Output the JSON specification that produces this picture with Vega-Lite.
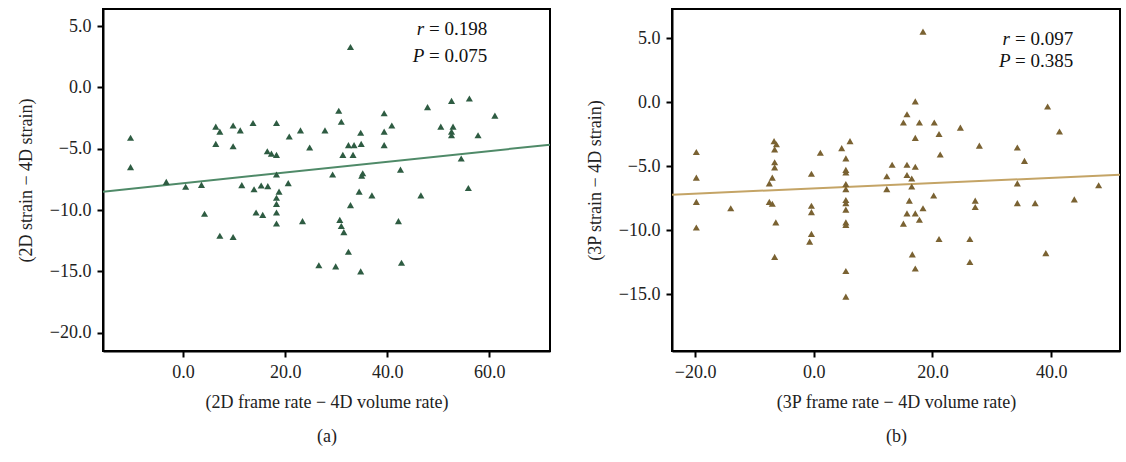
{
"$schema":"https://vega.github.io/schema/vega-lite/v6.json",
"background":"white",
"padding":{"left":16,"top":8,"right":0,"bottom":0},
"spacing":34,
"config":{
 "view":{"stroke":"black","strokeWidth":2},
 "font":"Liberation Serif",
 "axis":{"grid":false,"domainColor":"black","domainWidth":2,"tickColor":"black","tickWidth":2,"tickSize":6,"labelFont":"Liberation Serif","labelFontSize":18,"labelColor":"#222","titleFont":"Liberation Serif","titleFontSize":18,"titleFontWeight":"normal","titleColor":"#222","format":".1f","labelPadding":6},
 "axisX":{"titlePadding":12,"titleLineHeight":34},
 "axisY":{"titlePadding":14}
},
"datasets":{
 "a":[
{"x":-10.3,"y":-4.1},{"x":-10.3,"y":-6.5},{"x":-3.3,"y":-7.7},{"x":0.5,"y":-8.1},{"x":3.6,"y":-7.95},{"x":4.2,"y":-10.3},{"x":6.4,"y":-3.2},{"x":7.2,"y":-3.6},{"x":6.4,"y":-4.6},{"x":9.8,"y":-3.1},{"x":9.8,"y":-4.8},{"x":11.2,"y":-3.5},{"x":13.7,"y":-2.9},{"x":18.3,"y":-2.9},{"x":20.8,"y":-4.0},{"x":23.0,"y":-3.5},{"x":27.8,"y":-3.5},{"x":30.5,"y":-1.9},{"x":31.0,"y":-2.8},{"x":34.8,"y":-3.7},{"x":39.4,"y":-2.1},{"x":40.9,"y":-3.1},{"x":39.4,"y":-3.6},{"x":39.4,"y":-4.7},{"x":47.9,"y":-1.6},{"x":52.6,"y":-1.1},{"x":56.1,"y":-0.9},{"x":61.1,"y":-2.3},{"x":50.5,"y":-3.2},{"x":52.9,"y":-3.2},{"x":52.6,"y":-3.6},{"x":52.6,"y":-3.9},{"x":57.8,"y":-3.9},{"x":54.5,"y":-5.8},{"x":55.9,"y":-8.2},{"x":32.8,"y":3.3},{"x":16.5,"y":-5.2},{"x":17.3,"y":-5.4},{"x":18.3,"y":-5.5},{"x":24.8,"y":-4.9},{"x":32.4,"y":-4.7},{"x":33.5,"y":-4.7},{"x":34.9,"y":-4.6},{"x":31.3,"y":-5.5},{"x":33.3,"y":-5.5},{"x":18.3,"y":-7.1},{"x":20.6,"y":-7.8},{"x":11.5,"y":-7.97},{"x":13.9,"y":-8.3},{"x":15.3,"y":-8.0},{"x":16.6,"y":-8.05},{"x":18.8,"y":-8.5},{"x":18.3,"y":-9.0},{"x":18.3,"y":-9.5},{"x":18.3,"y":-10.2},{"x":18.3,"y":-11.1},{"x":14.3,"y":-10.2},{"x":15.6,"y":-10.4},{"x":23.4,"y":-10.9},{"x":7.2,"y":-12.1},{"x":9.8,"y":-12.2},{"x":29.3,"y":-7.1},{"x":35.2,"y":-7.0},{"x":35.0,"y":-7.2},{"x":42.6,"y":-6.7},{"x":34.5,"y":-8.5},{"x":37.0,"y":-8.8},{"x":46.6,"y":-8.8},{"x":32.8,"y":-9.6},{"x":30.7,"y":-10.8},{"x":31.0,"y":-11.3},{"x":31.5,"y":-11.8},{"x":42.2,"y":-10.9},{"x":32.4,"y":-13.4},{"x":26.6,"y":-14.5},{"x":29.9,"y":-14.6},{"x":34.8,"y":-15.0},{"x":42.8,"y":-14.3}
 ],
 "aline":[{"x":-15.7,"y":-8.5},{"x":71.9,"y":-4.67}],
 "b":[
{"x":-19.8,"y":-3.9},{"x":-19.8,"y":-5.9},{"x":-19.8,"y":-7.8},{"x":-19.8,"y":-9.8},{"x":-14.0,"y":-8.3},{"x":-6.7,"y":-3.05},{"x":-6.3,"y":-3.3},{"x":-6.6,"y":-3.7},{"x":-6.6,"y":-4.7},{"x":-6.6,"y":-5.1},{"x":-7.0,"y":-5.9},{"x":-7.5,"y":-6.35},{"x":-7.5,"y":-7.8},{"x":-7.0,"y":-7.95},{"x":-6.4,"y":-9.4},{"x":-6.6,"y":-12.1},{"x":-0.4,"y":-5.6},{"x":1.1,"y":-3.96},{"x":-0.4,"y":-8.1},{"x":-0.4,"y":-8.6},{"x":-0.4,"y":-10.3},{"x":-0.7,"y":-10.9},{"x":4.7,"y":-3.6},{"x":6.1,"y":-3.05},{"x":5.4,"y":-4.4},{"x":5.4,"y":-5.3},{"x":5.4,"y":-5.5},{"x":5.4,"y":-6.4},{"x":5.4,"y":-6.8},{"x":5.4,"y":-7.65},{"x":5.4,"y":-7.9},{"x":5.4,"y":-8.4},{"x":5.4,"y":-9.4},{"x":5.4,"y":-9.6},{"x":5.4,"y":-13.2},{"x":5.4,"y":-15.2},{"x":12.3,"y":-5.8},{"x":12.3,"y":-6.8},{"x":13.2,"y":-4.9},{"x":15.7,"y":-4.9},{"x":17.1,"y":-5.05},{"x":15.7,"y":-5.7},{"x":16.5,"y":-5.97},{"x":16.5,"y":-6.6},{"x":16.1,"y":-7.7},{"x":15.7,"y":-8.7},{"x":17.1,"y":-8.7},{"x":17.8,"y":-9.2},{"x":18.4,"y":-8.3},{"x":15.1,"y":-9.5},{"x":15.1,"y":-1.6},{"x":15.7,"y":-0.95},{"x":17.1,"y":0.05},{"x":17.8,"y":-1.6},{"x":17.1,"y":-2.8},{"x":20.3,"y":-1.6},{"x":21.1,"y":-2.5},{"x":21.3,"y":-4.1},{"x":20.2,"y":-7.3},{"x":18.4,"y":5.5},{"x":16.6,"y":-11.9},{"x":17.1,"y":-13.0},{"x":21.1,"y":-10.7},{"x":24.7,"y":-2.0},{"x":27.9,"y":-3.4},{"x":27.2,"y":-7.7},{"x":27.2,"y":-8.2},{"x":26.3,"y":-10.7},{"x":26.3,"y":-12.5},{"x":34.3,"y":-3.55},{"x":35.5,"y":-4.6},{"x":34.3,"y":-6.35},{"x":34.3,"y":-7.9},{"x":37.3,"y":-7.9},{"x":39.4,"y":-0.35},{"x":41.4,"y":-2.3},{"x":39.1,"y":-11.8},{"x":43.9,"y":-7.6},{"x":48.0,"y":-6.5}
 ],
 "bline":[{"x":-23.9,"y":-7.24},{"x":51.6,"y":-5.68}],
 "aitalic":[{"x":45.8,"y":4.75,"t":"r"},{"x":45.0,"y":2.55,"t":"P"}],
 "anorm":[{"x":48.2,"y":4.75,"t":"= 0.198"},{"x":48.2,"y":2.55,"t":"= 0.075"}],
 "bitalic":[{"x":31.8,"y":4.9,"t":"r"},{"x":31.2,"y":3.2,"t":"P"}],
 "bnorm":[{"x":33.9,"y":4.9,"t":"= 0.097"},{"x":33.9,"y":3.2,"t":"= 0.385"}]
},
"hconcat":[
 {"width":447,"height":342,
  "encoding":{
   "x":{"field":"x","type":"quantitative","scale":{"domain":[-15.7,71.9],"nice":false,"zero":false},"axis":{"values":[0,20,40,60],"title":["(2D frame rate − 4D volume rate)","","(a)"]}},
   "y":{"field":"y","type":"quantitative","scale":{"domain":[-21.5,6.4],"nice":false,"zero":false},"axis":{"values":[5,0,-5,-10,-15,-20],"title":"(2D strain − 4D strain)"}}
  },
  "layer":[
   {"data":{"name":"aline"},"mark":{"type":"line","color":"#4f8a68","strokeWidth":2,"clip":true}},
   {"data":{"name":"a"},"mark":{"type":"point","shape":"triangle-up","filled":true,"size":50,"color":"#2e5c42","opacity":1}},
   {"data":{"name":"aitalic"},"mark":{"type":"text","align":"left","baseline":"middle","fontSize":19,"fontStyle":"italic","color":"#111"},"encoding":{"text":{"field":"t"}}},
   {"data":{"name":"anorm"},"mark":{"type":"text","align":"left","baseline":"middle","fontSize":19,"color":"#111"},"encoding":{"text":{"field":"t"}}}
  ]},
 {"width":448,"height":342,
  "encoding":{
   "x":{"field":"x","type":"quantitative","scale":{"domain":[-23.9,51.6],"nice":false,"zero":false},"axis":{"values":[-20,0,20,40],"title":["(3P frame rate − 4D volume rate)","","(b)"]}},
   "y":{"field":"y","type":"quantitative","scale":{"domain":[-19.45,7.27],"nice":false,"zero":false},"axis":{"values":[5,0,-5,-10,-15],"title":"(3P strain − 4D strain)"}}
  },
  "layer":[
   {"data":{"name":"bline"},"mark":{"type":"line","color":"#c4a466","strokeWidth":2,"clip":true}},
   {"data":{"name":"b"},"mark":{"type":"point","shape":"triangle-up","filled":true,"size":50,"color":"#7a6232","opacity":1}},
   {"data":{"name":"bitalic"},"mark":{"type":"text","align":"left","baseline":"middle","fontSize":19,"fontStyle":"italic","color":"#111"},"encoding":{"text":{"field":"t"}}},
   {"data":{"name":"bnorm"},"mark":{"type":"text","align":"left","baseline":"middle","fontSize":19,"color":"#111"},"encoding":{"text":{"field":"t"}}}
  ]}
]
}
